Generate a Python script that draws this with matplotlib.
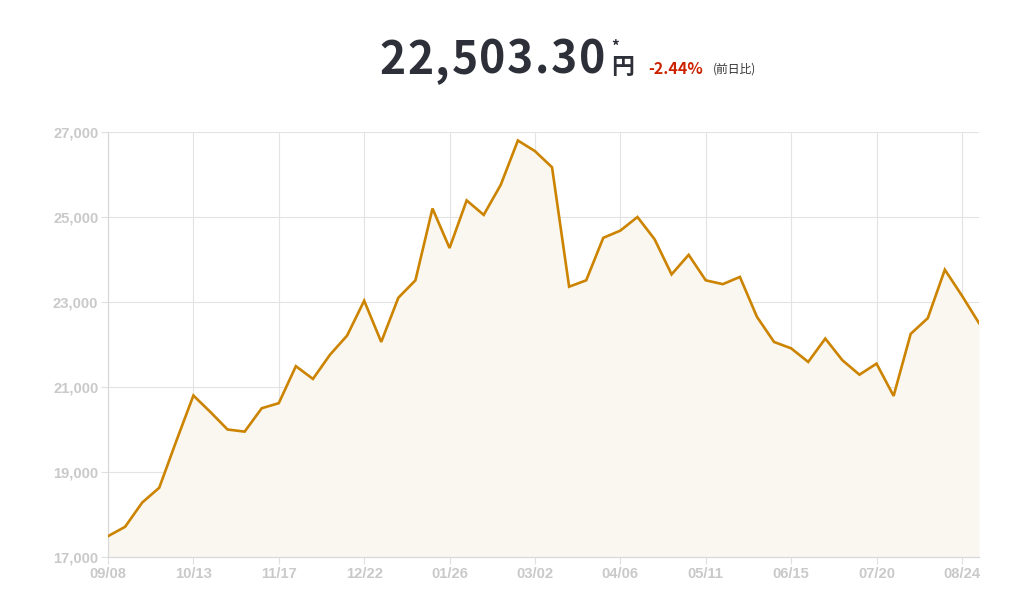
import numpy as np
import matplotlib
matplotlib.use("Agg")
import matplotlib.pyplot as plt
from matplotlib.ticker import FuncFormatter

# weekly closing prices (yen)
prices = [17490, 17710, 18280, 18630, 19730, 20800, 20410, 20000, 19950, 20500,
          20620, 21490, 21190, 21760, 22210, 23030, 22060, 23100, 23510, 25200,
          24270, 25390, 25050, 25760, 26800, 26550, 26170, 23360, 23510, 24510,
          24680, 25000, 24480, 23650, 24110, 23510, 23420, 23590, 22650, 22060,
          21910, 21590, 22140, 21630, 21290, 21550, 20790, 22250, 22620, 23760,
          23150, 22503.30]
tick_labels = ["09/08", "10/13", "11/17", "12/22", "01/26", "03/02",
               "04/06", "05/11", "06/15", "07/20", "08/24"]
y_ticks = [17000, 19000, 21000, 23000, 25000, 27000]
price_text = "22,503.30"
change_text = "-2.44%"

W, H = 1024, 589
fig = plt.figure(figsize=(W / 100, H / 100), dpi=100)
ax = fig.add_axes([108 / W, (H - 557) / H, (979 - 108) / W, 425 / H])

x = np.arange(len(prices))
ax.fill_between(x, 17000, prices, color="#faf7f0", lw=0, zorder=1)
ax.plot(x, prices, color="#cc8400", lw=1.9, zorder=3, solid_joinstyle="miter")

ax.set_xlim(0, len(prices) - 1)
ax.set_ylim(17000, 27000)
ax.set_xticks(np.arange(0, len(prices), 5))
ax.set_xticklabels(tick_labels)
ax.set_yticks(y_ticks)
ax.yaxis.set_major_formatter(FuncFormatter(lambda v, p: f"{int(v):,}"))

ax.grid(True, color="#e3e3e3", lw=0.8, zorder=0)
ax.set_axisbelow(True)
for s in ["top", "right"]:
    ax.spines[s].set_visible(False)
for s in ["left", "bottom"]:
    ax.spines[s].set_color("#d9d9d9")
    ax.spines[s].set_linewidth(0.9)
ax.tick_params(length=5, width=0.8, color="#e0e0e0", labelcolor="#c9c9c9", pad=2)
for lab in ax.get_xticklabels() + ax.get_yticklabels():
    lab.set_fontfamily("Liberation Sans")
    lab.set_fontweight("bold")
    lab.set_fontsize(10.6)

# header
def fx(px):
    return px / W

def fy(py):
    return 1 - py / H

jp = ["Noto Sans CJK JP", "DejaVu Sans"]
renderer = fig.canvas.get_renderer()

def text_width(s, **kw):
    t = fig.text(0, 0, s, **kw)
    w = t.get_window_extent(renderer).width
    t.remove()
    return w

# big price, drawn char by char to get the wide letter spacing
big = dict(family=jp, weight="bold", fontsize=32, color="#2d3038")
left, right = 379.5, 605.5
natural = text_width(price_text, **big)
spacing = (right - left - natural) / (len(price_text) - 1)
for i, ch in enumerate(price_text):
    xpos = left + (text_width(price_text[:i], **big) if i else 0) + i * spacing
    fig.text(fx(xpos), fy(74), ch, ha="left", va="baseline", **big)

fig.text(fx(611), fy(73.5), "円", family=jp, weight="bold", fontsize=16.5,
         color="#2d3038", ha="left", va="baseline")
fig.text(fx(615.5), fy(52), "*", family=jp, weight="bold", fontsize=11,
         color="#2d3038", ha="center", va="baseline")
fig.text(fx(648), fy(73.5), change_text, family=jp, weight="bold", fontsize=11.5,
         color="#cc2200", ha="left", va="baseline")
fig.text(fx(713), fy(72.5), "(前日比)", family=jp, fontsize=8.5,
         color="#333333", ha="left", va="baseline")

fig.savefig("out.png", dpi=100)
